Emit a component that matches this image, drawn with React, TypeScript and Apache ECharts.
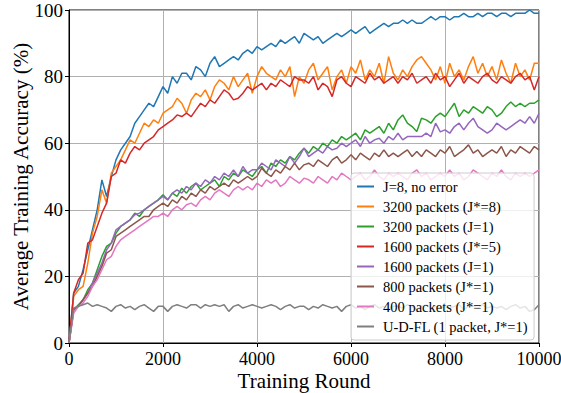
import React, { useEffect, useRef } from "react";
import * as echarts from "echarts";

// Training rounds sampled every 100 rounds, 0..10000
const rounds: number[] = Array.from({ length: 101 }, (_, i) => i * 100);

const noError: number[] = [
  0, 15, 17, 22, 28, 34, 40, 49, 44, 50,
  55, 58, 60, 62, 66, 68, 70, 72, 71, 74,
  77, 75, 80, 78, 81, 81, 79, 83, 82, 80,
  84, 86, 83, 84, 85, 86, 85, 87, 88, 87,
  89, 88, 89, 90, 89, 91, 90, 91, 92, 90,
  93, 92, 91, 92, 90, 91, 92, 93, 92, 93,
  94, 93, 94, 95, 93, 94, 95, 96, 95, 96,
  96, 97, 96, 97, 96, 96, 97, 98, 97, 98,
  98, 97, 98, 98, 99, 98, 98, 99, 98, 99,
  99, 98, 99, 99, 98, 99, 99, 99, 100, 99,
  99,
];

const p3200J8: number[] = [
  0, 14, 16, 17, 24, 33, 38, 46, 42, 51,
  53, 55, 58, 61, 60, 63, 66, 65, 67, 66,
  69, 70, 71, 73.5, 72, 69, 73, 75, 74, 76,
  73, 77, 79, 78, 76, 80, 77, 79, 81, 75,
  80, 83, 81, 80, 79, 82, 80, 83, 74, 80,
  78, 82, 84, 79, 81, 83, 76, 80, 82, 78,
  83, 81, 85, 79, 82, 80, 84, 78, 86, 81,
  79, 82, 80, 83, 85, 86, 84, 82, 79, 83,
  78, 84, 80, 82, 79, 83, 86, 81, 84, 80,
  83, 79, 85, 81, 78, 84, 80, 82, 79, 84,
  84,
];

const p3200J1: number[] = [
  0, 10, 11.5, 13, 16, 18, 22, 26, 29, 30,
  33, 35, 36, 37, 39, 38, 40, 41, 42, 43,
  44.5, 43, 45, 44, 46.5, 45, 47, 48, 46, 47,
  48, 49, 47, 50, 49, 51, 50, 52, 51, 50,
  52, 53, 51, 54, 53, 55, 54, 56, 55, 57,
  58.5, 57, 59, 58, 60, 59, 61, 60, 62, 61,
  62, 63, 61, 64, 63, 64, 65, 63, 66, 64,
  67, 68.5, 66, 65, 63.5, 67.5, 67, 66, 68, 69,
  68, 70, 72, 68, 70, 69, 71, 70, 69, 71,
  70, 68, 69, 71, 72.4, 71, 72, 71, 72, 72,
  73,
];

const p1600J5: number[] = [
  0, 15, 19, 21, 30, 31, 35, 39, 42, 50,
  51, 55, 54, 57, 59, 58, 60, 61, 62, 64,
  65, 66, 67, 68.5, 68, 69, 68, 70, 72, 71,
  73, 72, 74, 76, 75, 73, 73.5, 75, 77, 76,
  77, 78, 76, 78, 77, 79, 78, 77, 80, 79,
  79, 78, 80, 76, 78, 77, 74, 79, 80, 78,
  77, 80, 79, 78, 81, 79, 80, 78, 79, 80,
  78, 80, 79, 81, 78, 79, 80, 78, 81, 79,
  80, 77, 79, 81, 78, 80, 79, 78, 80, 81,
  79, 78, 80, 79, 78, 80, 81, 79, 80, 76,
  80,
];

const p1600J1: number[] = [
  0, 10, 11, 13, 15, 18, 21, 24, 28, 30,
  34, 35, 36, 37, 38.5, 39, 40, 41, 42, 43,
  44, 43, 45, 46, 45, 47, 46, 48, 47, 49,
  48, 50, 49, 51, 50, 52, 50, 53, 51, 52,
  52, 54, 53, 52, 55, 54, 53, 56, 54, 56,
  58.5, 56, 57, 58, 57, 59, 58, 58.5, 60, 59,
  60, 61, 59, 62, 60, 61, 61.5, 60, 62, 61,
  63, 61, 62, 62, 62, 62, 63, 62, 66, 63.4,
  64, 63, 65, 66, 64, 66, 67.5, 65, 64, 63,
  64, 66, 65, 64, 65, 66, 67, 66, 68, 66,
  69,
];

const p800J1: number[] = [
  0, 10, 11, 13, 15, 17, 20, 23, 27, 28,
  32, 33, 34, 35, 36, 37, 38, 38, 40, 41,
  42, 41, 43, 42, 44, 43, 45, 44, 46, 45,
  47, 46, 47, 48, 47, 49, 48, 49, 50, 49,
  50, 52.5, 51, 50, 52, 51, 53, 52, 54, 52,
  53.5, 54, 53, 55, 54, 53, 55, 56, 54, 55,
  56.5, 55, 57, 56, 55, 57, 56, 58, 56, 57,
  56, 57, 58, 56, 57.5, 56, 58, 57, 56, 58,
  57, 59, 56, 57, 58, 59.5, 57, 58, 56, 57,
  58, 57, 59, 56, 58, 57, 59, 58, 57, 59,
  58,
];

const p400J1: number[] = [
  0, 9, 11, 12, 14, 17, 19, 22, 25, 26,
  29, 31, 32, 33, 34, 35, 36, 37, 38, 38,
  39, 38, 40, 41, 40, 41.5, 42, 41, 43, 44,
  43, 45, 46, 45, 44, 46, 47, 46, 47, 46,
  48, 47, 49, 48, 49, 47, 48, 50, 49, 48,
  49.5, 49, 48, 50, 49, 48, 50, 49, 51, 50,
  49, 50, 51, 49, 50, 52, 50, 49, 51, 50,
  51, 50, 49, 51, 52, 50, 51, 49, 50, 51,
  50, 52, 50, 51, 49, 50, 52, 51, 50, 49,
  51, 50, 52, 50, 49, 51, 50, 51, 50, 51,
  52,
];

const udfl: number[] = [
  0, 10.5, 11, 11.5, 12, 11, 11.5, 11, 10.5, 9.5,
  11, 11.5, 10.5, 11, 10, 11, 11.5, 10.5, 9.5, 11,
  11, 9.5, 11, 11.5, 11, 10.5, 11.5, 11.5, 10.5, 11.5,
  11, 11.5, 11, 11.5, 9.5, 11, 11.5, 10.5, 11, 11.5,
  11, 10.5, 11, 11.5, 11, 10, 11, 11.5, 10.5, 11,
  11, 10, 11, 10.5, 11.5, 11, 10.5, 11, 9.5, 11,
  11.5, 10.5, 11, 10, 11, 11.5, 10.5, 11, 10, 11,
  11, 10.5, 11.5, 11, 10, 11, 11.5, 10.5, 11, 10.5,
  11, 10.5, 11, 11.5, 10, 11, 11, 10.5, 11.5, 10.5,
  11, 10.5, 11, 10, 11, 11.5, 10.5, 11, 9.5, 10,
  11.5,
];

const seriesNames: string[] = [
  "J=8, no error",
  "3200 packets (J*=8)",
  "3200 packets (J=1)",
  "1600 packets (J*=5)",
  "1600 packets (J=1)",
  "800 packets (J*=1)",
  "400 packets (J*=1)",
  "U-D-FL (1 packet, J*=1)",
];

const seriesValues: number[][] = [noError, p3200J8, p3200J1, p1600J5, p1600J1, p800J1, p400J1, udfl];

const colors: string[] = [
  "#1f77b4", "#ff7f0e", "#2ca02c", "#d62728",
  "#9467bd", "#8c564b", "#e377c2", "#7f7f7f",
];

const xTicks = { min: 0, max: 10000, interval: 2000 };
const yTicks = { min: 0, max: 100, interval: 20 };

const FONT = "'Liberation Serif', 'DejaVu Serif', serif";

export default function App() {
  const ref = useRef<HTMLDivElement>(null);

  useEffect(() => {
    if (!ref.current) return;
    const chart = echarts.init(ref.current, undefined, { renderer: "svg" });
    const axisCommon = {
      axisLine: { show: true, lineStyle: { color: "#000", width: 1 } },
      axisTick: { show: true, inside: false, length: 4, lineStyle: { color: "#000", width: 1 } },
      axisLabel: { color: "#000", fontSize: 18, fontFamily: FONT, formatter: (v: number) => String(v) },
      splitLine: { show: true, lineStyle: { color: "#b0b0b0", width: 1 } },
      nameMoveOverlap: false,
      nameTextStyle: { color: "#000", fontSize: 21, fontFamily: FONT, fontWeight: "normal" },
    };
    chart.setOption({
      animation: false,
      backgroundColor: "#fff",
      color: colors,
      grid: {
        left: 69,
        right: 22,
        top: 10,
        bottom: 50,
        containLabel: false,
        outerBoundsMode: "none",
        show: true,
        borderColor: "#000",
        borderWidth: 1,
        backgroundColor: "transparent",
      },
      xAxis: {
        type: "value",
        ...xTicks,
        name: "Training Round",
        nameLocation: "middle",
        nameGap: 27,
        ...axisCommon,
        axisLabel: { ...axisCommon.axisLabel, margin: 7 },
      },
      yAxis: {
        type: "value",
        ...yTicks,
        name: "Average Training Accuracy (%)",
        nameLocation: "middle",
        nameGap: 38,
        ...axisCommon,
        axisLabel: { ...axisCommon.axisLabel, fontSize: 19, margin: 6 },
      },
      legend: {
        orient: "vertical",
        left: 351,
        top: 173,
        width: 181,
        padding: [6, 6, 6, 6],
        icon: "rect",
        itemWidth: 17,
        itemHeight: 2,
        itemGap: 5,
        backgroundColor: "rgba(255,255,255,0.8)",
        borderColor: "#cccccc",
        borderWidth: 1,
        borderRadius: 3,
        textStyle: { color: "#000", fontSize: 14.5, fontFamily: FONT, lineHeight: 15, padding: [0, 0, 0, 4] },
        data: seriesNames,
      },
      series: seriesNames.map((name, k) => ({
        name,
        type: "line",
        symbol: "none",
        data: rounds.map((r, i) => [r, seriesValues[k][i]]),
        lineStyle: { width: 1.5, color: colors[k] },
        itemStyle: { color: colors[k] },
      })),
    });
    return () => chart.dispose();
  }, []);

  return <div ref={ref} style={{ width: 561, height: 393, position: "absolute", left: 0, top: 0 }} />;
}
